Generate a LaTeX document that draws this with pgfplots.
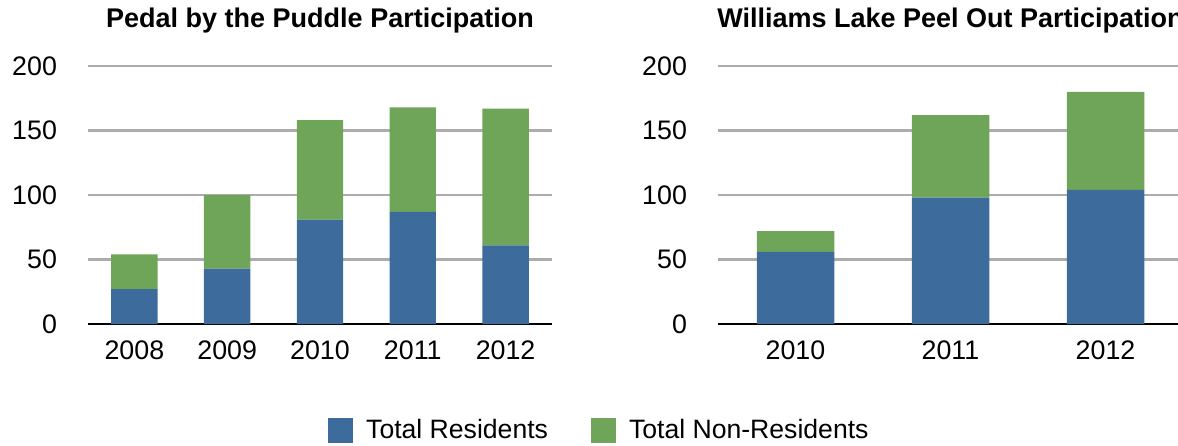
\documentclass[border=0pt]{standalone}
\usepackage{fontspec}
\setmainfont{Liberation Sans}
\usepackage{pgfplots}
\pgfplotsset{compat=1.18}
\definecolor{resblue}{RGB}{61,108,156}
\definecolor{nonresgreen}{RGB}{110,165,89}
\definecolor{gridgray}{RGB}{172,172,172}
\pgfplotsset{
  mybars/.style={
    scale only axis,
    height=129pt,
    ybar stacked,
    bar width=0.5,
    ymin=0, ymax=200,
    ytick={0,50,100,150,200},
    xtick=data,
    ymajorgrids,
    grid style={gridgray, line width=1.3pt},
    axis line style={draw=none},
    major tick length=0pt,
    tick label style={font=\fontsize{13.4}{15}\selectfont},
    /pgf/number format/assume math mode=true,
    yticklabel style={anchor=east, xshift=-12pt},
    xticklabel style={anchor=north, yshift=-5pt},
    title style={font=\bfseries\fontsize{13.5}{16}\selectfont, at={(0.5,1)}, anchor=center, yshift=16.5pt},
    legend image code/.code={\fill[##1, draw=none] (0pt,-6.25pt) rectangle (12.5pt,6.25pt);},
  }
}
\begin{document}
\begin{tikzpicture}
\useasboundingbox (0,0) rectangle (589pt,222.5pt);
\begin{axis}[mybars,
  at={(44pt,60.5pt)}, anchor=south west,
  width=232pt,
  xmin=-0.5, xmax=4.5,
  xticklabels={2008,2009,2010,2011,2012},
  title={Pedal by the Puddle Participation},
  legend columns=2,
  legend style={draw=none, fill=none, at={(1.114,-0.411)}, anchor=center,
    font=\fontsize{13.3}{15}\selectfont,
    /tikz/every even column/.append style={column sep=15pt},
    nodes={inner xsep=6.5pt}},
]
\addplot[fill=resblue, draw=none] coordinates {(0,27) (1,43) (2,81) (3,87) (4,61)};
\addplot[fill=nonresgreen, draw=none] coordinates {(0,27) (1,57) (2,77) (3,81) (4,106)};
\legend{Total Residents, Total Non-Residents}
\draw[black, line width=1.5pt] (axis cs:-0.5,0) -- (axis cs:4.5,0);
\end{axis}
\begin{axis}[mybars,
  at={(359pt,60.5pt)}, anchor=south west,
  width=232.5pt,
  xmin=-0.5, xmax=2.5,
  xticklabels={2010,2011,2012},
  title={Williams Lake Peel Out Participation},
]
\addplot[fill=resblue, draw=none] coordinates {(0,56) (1,98) (2,104)};
\addplot[fill=nonresgreen, draw=none] coordinates {(0,16) (1,64) (2,76)};
\draw[black, line width=1.5pt] (axis cs:-0.5,0) -- (axis cs:2.5,0);
\end{axis}
\end{tikzpicture}
\end{document}
